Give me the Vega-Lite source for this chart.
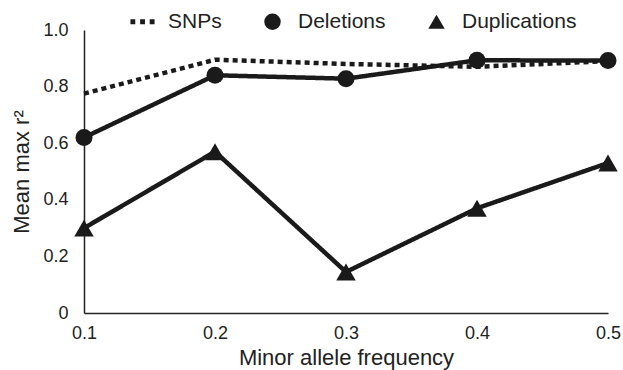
{
  "$schema": "https://vega.github.io/schema/vega-lite/v6.json",
  "width": 524,
  "height": 283,
  "autosize": "none",
  "padding": {"left": 84, "top": 30, "right": 15, "bottom": 57},
  "background": "white",
  "config": {
    "view": {"stroke": null},
    "font": "Liberation Sans",
    "axis": {"domainColor": "#222", "domainWidth": 1.5, "ticks": false, "grid": false, "labelColor": "#222", "titleColor": "#222", "labelFont": "Liberation Sans", "titleFont": "Liberation Sans", "titleFontWeight": "normal", "labelFontSize": 18, "titleFontSize": 22, "labelFlush": false}
  },
  "data": {"values": [
    {"maf": 0.1, "series": "SNPs", "r2": 0.775},
    {"maf": 0.2, "series": "SNPs", "r2": 0.895},
    {"maf": 0.3, "series": "SNPs", "r2": 0.88},
    {"maf": 0.4, "series": "SNPs", "r2": 0.87},
    {"maf": 0.5, "series": "SNPs", "r2": 0.89},
    {"maf": 0.1, "series": "Deletions", "r2": 0.62},
    {"maf": 0.2, "series": "Deletions", "r2": 0.84},
    {"maf": 0.3, "series": "Deletions", "r2": 0.828},
    {"maf": 0.4, "series": "Deletions", "r2": 0.893},
    {"maf": 0.5, "series": "Deletions", "r2": 0.892},
    {"maf": 0.1, "series": "Duplications", "r2": 0.3},
    {"maf": 0.2, "series": "Duplications", "r2": 0.57},
    {"maf": 0.3, "series": "Duplications", "r2": 0.145},
    {"maf": 0.4, "series": "Duplications", "r2": 0.37},
    {"maf": 0.5, "series": "Duplications", "r2": 0.53}
  ]},
  "encoding": {
    "x": {"field": "maf", "type": "quantitative", "scale": {"domain": [0.1, 0.5], "nice": false, "zero": false}, "axis": {"values": [0.1, 0.2, 0.3, 0.4, 0.5], "format": ".1f", "title": "Minor allele frequency", "labelPadding": 11, "titlePadding": 5}},
    "y": {"field": "r2", "type": "quantitative", "scale": {"domain": [0, 1], "nice": false}, "axis": {"values": [0, 0.2, 0.4, 0.6, 0.8, 1.0], "labelExpr": "datum.value == 0 ? '0' : format(datum.value, '.1f')", "title": "Mean max r²", "labelPadding": 16, "titlePadding": 9}}
  },
  "layer": [
    {
      "mark": {"type": "line", "color": "#1a1a1a", "strokeWidth": 4.5, "strokeCap": "butt"},
      "encoding": {
        "detail": {"field": "series"},
        "strokeDash": {"condition": {"test": "datum.series == 'SNPs'", "value": [5, 4]}, "value": [1, 0]}
      }
    },
    {
      "transform": [{"filter": "datum.series != 'SNPs'"}],
      "mark": {"type": "point", "filled": true, "color": "#1a1a1a", "opacity": 1},
      "encoding": {
        "shape": {"field": "series", "type": "nominal",
          "scale": {"domain": ["SNPs", "Deletions", "Duplications"], "range": ["M-1.47,-0.3h0.59v0.6h-0.59z M-0.29,-0.3h0.59v0.6h-0.59z M0.88,-0.3h0.59v0.6h-0.59z", "circle", "triangle-up"]},
          "legend": {"title": null, "orient": "none", "direction": "horizontal", "legendX": 48, "legendY": -19, "symbolSize": 270, "symbolFillColor": "#1a1a1a", "symbolStrokeColor": "#1a1a1a", "symbolStrokeWidth": 0, "labelFontSize": 21, "labelFont": "Liberation Sans", "labelColor": "#222", "labelOffset": 15, "columnPadding": 40, "symbolOpacity": 1}
        },
        "size": {"condition": {"test": "datum.series == 'Duplications'", "value": 380}, "value": 290}
      }
    }
  ]
}
